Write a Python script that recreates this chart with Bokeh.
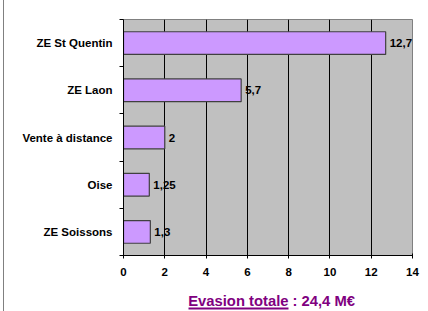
from bokeh.plotting import figure
from bokeh.models import Range1d, FixedTicker, ColumnDataSource, LabelSet
from bokeh.layouts import column
from bokeh.embed import file_html
from bokeh.resources import INLINE
from bokeh.core.properties import value

categories = ["ZE St Quentin", "ZE Laon", "Vente à distance", "Oise", "ZE Soissons"]
values = [12.7, 5.7, 2, 1.25, 1.3]
value_labels = ["12,7", "5,7", "2", "1,25", "1,3"]
x_ticks = [0, 2, 4, 6, 8, 10, 12, 14]
caption_main = "Evasion totale"
caption_rest = ": 24,4 M€"

FONT = "Liberation Sans"
LEFT_OFF = 4  # layout starts 4px in (3px margin + 1px border)
n = len(categories)
ypos = [n - i - 0.5 for i in range(n)]
src = ColumnDataSource(dict(y=ypos, v=values, lab=value_labels, cat=categories))

p = figure(width=428 - LEFT_OFF, height=285, x_range=Range1d(0, 14), y_range=Range1d(0, n),
           output_backend="svg", toolbar_location=None, title=None,
           min_border_left=123 - LEFT_OFF, min_border_right=16, min_border_top=19, min_border_bottom=30)
p.background_fill_color = "#C0C0C0"
p.border_fill_color = "white"
p.outline_line_color = "#808080"

p.xgrid.ticker = FixedTicker(ticks=x_ticks)
p.xgrid.grid_line_color = "black"
p.ygrid.visible = False

p.hbar(y="y", left=0, right="v", height=0.48, source=src,
       fill_color="#CC99FF", line_color="#404040", line_width=1.2)

labels = LabelSet(x="v", y="y", text="lab", source=src, x_offset=4,
                  text_baseline="middle", text_align="left",
                  text_font=value(FONT), text_font_style="bold",
                  text_font_size="11.5px", text_color="black")
p.add_layout(labels)

xa = p.xaxis[0]
xa.ticker = FixedTicker(ticks=x_ticks)
xa.axis_line_color = "black"
xa.major_tick_line_color = "black"
xa.major_tick_in = 2
xa.major_tick_out = 3
xa.major_label_standoff = 9
xa.major_label_text_font = FONT
xa.major_label_text_font_style = "bold"
xa.major_label_text_font_size = "11.5px"
xa.major_label_text_color = "black"

ya = p.yaxis[0]
ya.ticker = FixedTicker(ticks=ypos, minor_ticks=list(range(n + 1)))
ya.major_label_overrides = {yy: c for yy, c in zip(ypos, categories)}
ya.axis_line_color = "black"
ya.major_tick_in = 0
ya.major_tick_out = 0
ya.minor_tick_in = 0
ya.minor_tick_out = 4
ya.minor_tick_line_color = "black"
ya.major_label_standoff = 7
ya.major_label_text_font = FONT
ya.major_label_text_font_style = "bold"
ya.major_label_text_font_size = "11.5px"
ya.major_label_text_color = "black"

# caption strip: frame aligned with the main plot frame (page x 123..412)
c = figure(width=428 - LEFT_OFF, height=26, x_range=Range1d(123, 412), y_range=Range1d(0, 26),
           output_backend="svg", toolbar_location=None, x_axis_type=None, y_axis_type=None,
           title=None, min_border_left=123 - LEFT_OFF, min_border_right=16,
           min_border_top=0, min_border_bottom=0)
c.outline_line_color = None
c.background_fill_color = None
c.border_fill_color = "white"
c.grid.visible = False
c.text(x=[288], y=[11], text=[caption_main], text_font=value(FONT), text_font_style="bold",
       text_font_size="14.8px", text_color="#800080", text_align="right", text_baseline="middle")
c.text(x=[292], y=[11], text=[caption_rest], text_font=value(FONT), text_font_style="bold",
       text_font_size="14.8px", text_color="#800080", text_align="left", text_baseline="middle")
c.segment(x0=[188], y0=[3], x1=[288], y1=[3], line_color="#800080", line_width=2)

layout = column(p, c, spacing=0, margin=(0, 0, 0, 3),
                styles={"border-left": "1px solid #808080"})
open("out.html", "w").write(file_html(layout, INLINE))
